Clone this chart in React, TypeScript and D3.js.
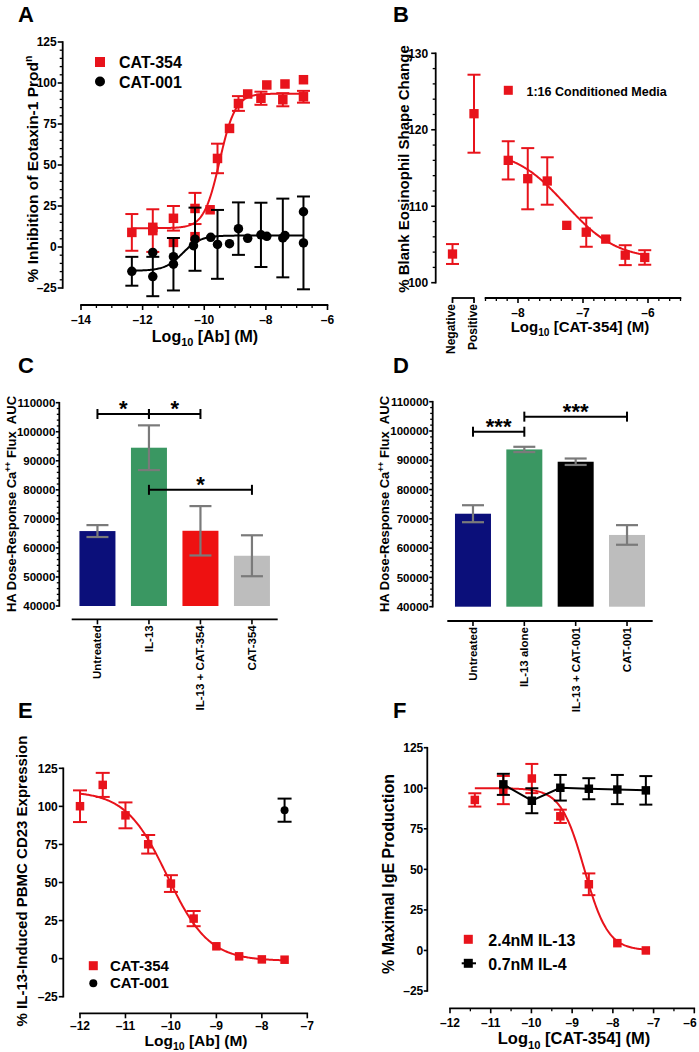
import React from 'react';
import * as d3 from 'd3';

const FONT = '"Liberation Sans", Arial, Helvetica, sans-serif';
const RED = '#e8131b';
const NAVY = '#0b0f7a';
const GREEN = '#3a9762';
const GREY_BAR = '#bdbdbd';
const ERR_GREY = '#7a7a7a';

// ---------------- Panel A ----------------
const aTicksX = [-14, -12, -10, -8, -6];
const aTicksY = [-25, 0, 25, 50, 75, 100, 125];
const a354X = [-12.35, -11.67, -11.67, -11.0, -11.0, -10.3, -10.3, -9.81, -9.57, -9.18, -8.89, -8.59, -8.16, -7.97, -7.45, -7.38, -6.78, -6.78];
const a354Y = [8.9, 10, 12, 17.5, 2.8, 23.5, 6.3, 22.7, 54, 72.3, 87.5, 93.3, 90.7, 98.8, 89.8, 99.4, 91.6, 102];
const a354Err = [11.2, 13, 0, 7.5, 0, 9.5, 0, 0, 9, 0, 4.5, 0, 4, 0, 4, 0, 3.6, 0];
const a001X = [-12.35, -11.67, -11.67, -11.0, -11.0, -10.35, -10.3, -9.79, -9.57, -9.18, -8.89, -8.59, -8.16, -7.97, -7.45, -7.38, -6.78, -6.78];
const a001Y = [-14.8, -18, -3.3, -10.5, -5.9, 0.8, 4.75, 5.9, 1.6, 2, 11.2, 5.3, 7.4, 6.5, 5.5, 7, 2.5, 21.5];
const a001Err = [8.8, 12, 0, 16, 0, 0, 19.25, 0, 21, 0, 16, 0, 19.6, 0, 24, 0, 28.3, 0];
const a354Fit = { bottom: 11.5, top: 93.5, logEC50: -9.5, hill: 1.7, from: -12.35, to: -6.78 };
const a001Fit = { bottom: -14.5, top: 7, logEC50: -10.7, hill: 1.5, from: -12.35, to: -6.78 };

// ---------------- Panel B ----------------
const bTicksX = [-8, -7, -6];
const bTicksY = [100, 110, 120, 130];
const bCtrlNames = ['Negative', 'Positive'];
const bCtrlY = [103.75, 122.1];
const bCtrlErr = [1.3, 5.1];
const bX = [-8.15, -7.85, -7.55, -7.25, -6.95, -6.65, -6.35, -6.05];
const bY = [116.0, 113.6, 113.3, 107.5, 106.6, 105.7, 103.6, 103.3];
const bErr = [2.5, 4.0, 3.1, 0, 1.9, 0, 1.3, 0.95];
const bFit = { bottom: 103, top: 117.5, logEC50: -7.27, hill: -1.1, from: -8.15, to: -6.05 };

// ---------------- Panels C & D ----------------
const barTicks = [40000, 50000, 60000, 70000, 80000, 90000, 100000, 110000];
const cCats = ['Untreated', 'IL-13', 'IL-13 + CAT-354', 'CAT-354'];
const cVals = [65800, 94500, 65900, 57300];
const cErr = [2050, 7700, 8500, 7050];
const cColors = [NAVY, GREEN, '#ee1111', GREY_BAR];
const cSig = [
  { a: 0, b: 1, at: 106100, mark: '*' },
  { a: 1, b: 2, at: 106100, mark: '*' },
  { a: 1, b: 3, at: 80000, mark: '*' },
];
const dCats = ['Untreated', 'IL-13 alone', 'IL-13 + CAT-001', 'CAT-001'];
const dVals = [71750, 93700, 89500, 64500];
const dErr = [2900, 900, 1100, 3350];
const dColors = [NAVY, GREEN, '#000000', GREY_BAR];
const dSig = [
  { a: 0, b: 1, at: 99750, mark: '***' },
  { a: 1, b: 3, at: 104900, mark: '***' },
];

// ---------------- Panel E ----------------
const eTicksX = [-12, -11, -10, -9, -8, -7];
const eTicksY = [-25, 0, 25, 50, 75, 100, 125];
const e354X = [-12, -11.5, -11, -10.5, -10, -9.5, -9, -8.5, -8, -7.5];
const e354Y = [100.1, 114.1, 94.1, 75.1, 49.3, 26.3, 8.1, 1.5, -0.5, -0.7];
const e354Err = [10.4, 7.9, 8.5, 6.1, 5.5, 5, 0, 0, 0, 0];
const e001X = [-7.5];
const e001Y = [97.5];
const e001Err = [7.6];
const eFit = { bottom: -1.5, top: 110, logEC50: -10.08, hill: -0.95, from: -12, to: -7.5 };

// ---------------- Panel F ----------------
const fTicksX = [-12, -11, -10, -9, -8, -7, -6];
const fTicksY = [-25, 0, 25, 50, 75, 100, 125];
const f13X = [-11.39, -10.69, -9.99, -9.29, -8.59, -7.89, -7.19];
const f13Y = [92.8, 98.9, 106, 82.7, 40.8, 4.5, 0];
const f13Err = [4.1, 8.7, 9, 4.1, 6.7, 0, 0];
const f4X = [-10.69, -9.99, -9.29, -8.59, -7.89, -7.19];
const f4Y = [102.4, 92.3, 100.3, 99.7, 99.2, 98.7];
const f4Err = [6.5, 7.7, 7.9, 6.5, 9, 8.8];
const fFit = { bottom: 0, top: 100, logEC50: -8.7, hill: -1.5, from: -11.39, to: -7.19 };

type Fit = { bottom: number; top: number; logEC50: number; hill: number; from: number; to: number };
const logistic = (f: Fit) => (x: number) =>
  f.bottom + (f.top - f.bottom) / (1 + Math.pow(10, (f.logEC50 - x) * f.hill));

const fmt = (v: number) => (v < 0 ? '\u2013' + Math.abs(v) : String(v));

function minorOf(lo: number, hi: number, step: number, major: number[]) {
  const n = Math.round((hi - lo) / step);
  return d3.range(n + 1).map(i => lo + i * step).filter(v => !major.some(m => Math.abs(m - v) < 1e-6));
}

const Txt = (p: any) => <text fontFamily={FONT} fontWeight="bold" fill="#000" {...p} />;

function AxisLeft({ x, scale, major, minor = [], fs = 12, majorLen = 5, minorLen = 3, gap = 1, format = fmt }: any) {
  const r = scale.range();
  return (
    <g>
      <line x1={x} x2={x} y1={r[0] + 0.8} y2={r[1] - 0.8} stroke="#000" strokeWidth={1.8} />
      {minor.map((v: number, i: number) => (
        <line key={'n' + i} x1={x - minorLen} x2={x} y1={scale(v)} y2={scale(v)} stroke="#000" strokeWidth={1.3} />
      ))}
      {major.map((v: number, i: number) => (
        <g key={'j' + i}>
          <line x1={x - majorLen} x2={x} y1={scale(v)} y2={scale(v)} stroke="#000" strokeWidth={1.6} />
          <Txt x={x - majorLen - gap} y={scale(v)} dy="0.36em" textAnchor="end" fontSize={fs}>{format(v)}</Txt>
        </g>
      ))}
    </g>
  );
}

function AxisBottom({ y, scale, major, minor = [], fs = 12, majorLen = 5, minorLen = 3, labelDy = 18, maxLabelX = 10000 }: any) {
  const r = scale.range();
  return (
    <g>
      <line x1={r[0] - 0.8} x2={r[1] + 0.8} y1={y} y2={y} stroke="#000" strokeWidth={1.8} />
      {minor.map((v: number, i: number) => (
        <line key={'n' + i} x1={scale(v)} x2={scale(v)} y1={y} y2={y + minorLen} stroke="#000" strokeWidth={1.3} />
      ))}
      {major.map((v: number, i: number) => (
        <g key={'j' + i}>
          <line x1={scale(v)} x2={scale(v)} y1={y} y2={y + majorLen} stroke="#000" strokeWidth={1.6} />
          <Txt x={Math.min(scale(v), maxLabelX)} y={y + labelDy} textAnchor="middle" fontSize={fs}>{fmt(v)}</Txt>
        </g>
      ))}
    </g>
  );
}

function ErrBar({ x, y0, y1, cap, color, sw = 2 }: any) {
  return (
    <g stroke={color} strokeWidth={sw}>
      <line x1={x} x2={x} y1={y0} y2={y1} />
      <line x1={x - cap / 2} x2={x + cap / 2} y1={y0} y2={y0} />
      <line x1={x - cap / 2} x2={x + cap / 2} y1={y1} y2={y1} />
    </g>
  );
}

function Series({ xs, ys, es, sx, sy, color, shape, size, cap }: any) {
  return (
    <g>
      {xs.map((x: number, i: number) =>
        es[i] > 0 ? (
          <ErrBar key={'e' + i} x={sx(x)} y0={sy(ys[i] + es[i])} y1={sy(ys[i] - es[i])} cap={cap} color={color} />
        ) : null
      )}
      {xs.map((x: number, i: number) =>
        shape === 'circle' ? (
          <circle key={'m' + i} cx={sx(x)} cy={sy(ys[i])} r={size / 2} fill={color} />
        ) : (
          <rect key={'m' + i} x={sx(x) - size / 2} y={sy(ys[i]) - size / 2} width={size} height={size} fill={color} />
        )
      )}
    </g>
  );
}

function Curve({ fit, sx, sy, color }: any) {
  const f = logistic(fit);
  const pts = d3.range(201).map(i => fit.from + ((fit.to - fit.from) * i) / 200);
  const line = d3.line<number>().x(v => sx(v)).y(v => sy(f(v)));
  return <path d={line(pts) || ''} fill="none" stroke={color} strokeWidth={2} />;
}

function LogTitle({ x, y, fs, rest }: any) {
  return (
    <Txt x={x} y={y} textAnchor="middle" fontSize={fs}>
      Log
      <tspan fontSize={fs * 0.68} dy={fs * 0.28}>10</tspan>
      <tspan dy={-fs * 0.28}>{'\u00A0' + rest}</tspan>
    </Txt>
  );
}

function YTitle({ x, y, fs, children }: any) {
  return (
    <Txt transform={`translate(${x},${y}) rotate(-90)`} textAnchor="middle" fontSize={fs}>
      {children}
    </Txt>
  );
}

function BarPanel({ cats, vals, errs, colors, sig, axisX, yRange, xRange, baseY }: any) {
  const sy = d3.scaleLinear().domain([40000, 110000]).range(yRange);
  const sx = d3.scalePoint<string>().domain(cats).range(xRange).padding(0.5);
  const bw = 36;
  return (
    <g>
      <AxisLeft x={axisX} scale={sy} major={barTicks} minor={minorOf(40000, 110000, 2000, barTicks)}
        fs={11.5} majorLen={3.5} minorLen={2.5} gap={0.5} />
      {cats.map((c: string, i: number) => (
        <rect key={'b' + i} x={(sx(c) as number) - bw / 2} y={sy(vals[i])} width={bw}
          height={sy(40000) - sy(vals[i])} fill={colors[i]} />
      ))}
      {cats.map((c: string, i: number) => (
        <ErrBar key={'e' + i} x={sx(c)} y0={sy(vals[i] + errs[i])} y1={sy(vals[i] - errs[i])} cap={22} color={ERR_GREY} sw={2.2} />
      ))}
      <line x1={xRange[0]} x2={xRange[1]} y1={baseY} y2={baseY} stroke="#000" strokeWidth={1.8} />
      {cats.map((c: string, i: number) => (
        <g key={'t' + i}>
          <line x1={sx(c)} x2={sx(c)} y1={baseY} y2={baseY + 5} stroke="#000" strokeWidth={1.6} />
          <Txt transform={`translate(${(sx(c) as number) + 4},${baseY + 6}) rotate(-90)`} textAnchor="end" fontSize={11.5}>{c}</Txt>
        </g>
      ))}
      {sig.map((s: any, i: number) => {
        const x0 = sx(cats[s.a]) as number;
        const x1 = sx(cats[s.b]) as number;
        const y = sy(s.at);
        return (
          <g key={'s' + i}>
            <g stroke="#000" strokeWidth={2}>
              <line x1={x0} x2={x1} y1={y} y2={y} />
              <line x1={x0} x2={x0} y1={y - 5} y2={y + 5} />
              <line x1={x1} x2={x1} y1={y - 5} y2={y + 5} />
            </g>
            <Txt x={(x0 + x1) / 2} y={y + 2} textAnchor="middle" fontSize={22}>{s.mark}</Txt>
          </g>
        );
      })}
    </g>
  );
}

export default function App() {
  // Panel A scales
  const xA = d3.scaleLinear().domain([-14, -6]).range([81, 327.5]);
  const yA = d3.scaleLinear().domain([-25, 125]).range([288, 42]);
  // Panel B scales
  const xB = d3.scaleLinear().domain([-8.5, -5.5]).range([485.5, 680.5]);
  const yB = d3.scaleLinear().domain([100, 130]).range([282.7, 53.3]);
  const xBc = d3.scalePoint<string>().domain(bCtrlNames).range([452.5, 474]);
  // Panel E scales
  const xE = d3.scaleLinear().domain([-12, -7]).range([80, 307.3]);
  const yE = d3.scaleLinear().domain([-25, 125]).range([996.7, 768.3]);
  // Panel F scales
  const xF = d3.scaleLinear().domain([-12, -6]).range([450, 694.3]);
  const yF = d3.scaleLinear().domain([-25, 125]).range([991, 747.7]);

  const f4Line = d3.line<number>().x(v => xF(v)).y((v, i) => yF(f4Y[i]));

  return (
    <svg width={699} height={1052} viewBox="0 0 699 1052"
      style={{ position: 'absolute', left: 0, top: 0, background: '#fff' }}>
      <rect x={0} y={0} width={699} height={1052} fill="#fff" />

      {/* ---------- Panel A ---------- */}
      <Txt x={18} y={22} fontSize={22}>A</Txt>
      <AxisLeft x={62.7} scale={yA} major={aTicksY} minor={minorOf(-25, 125, 5, aTicksY)} />
      <AxisBottom y={305} scale={xA} major={aTicksX} minor={minorOf(-14, -6, 0.5, aTicksX)} labelDy={18.5} />
      <Curve fit={a354Fit} sx={xA} sy={yA} color={RED} />
      <Curve fit={a001Fit} sx={xA} sy={yA} color="#000" />
      <Series xs={a354X} ys={a354Y} es={a354Err} sx={xA} sy={yA} color={RED} shape="square" size={9.5} cap={13} />
      <Series xs={a001X} ys={a001Y} es={a001Err} sx={xA} sy={yA} color="#000" shape="circle" size={9.5} cap={13} />
      <rect x={95} y={57} width={10} height={10} fill={RED} />
      <Txt x={119} y={68} fontSize={16}>CAT-354</Txt>
      <circle cx={100} cy={81.5} r={5} fill="#000" />
      <Txt x={119} y={87.5} fontSize={16}>CAT-001</Txt>
      <YTitle x={37.5} y={169} fs={15.5}>
        % Inhibition of Eotaxin-1 Prod<tspan fontSize={10.5} dy={-6}>n</tspan>
      </YTitle>
      <LogTitle x={205} y={342} fs={16} rest="[Ab] (M)" />

      {/* ---------- Panel B ---------- */}
      <Txt x={393} y={22} fontSize={22}>B</Txt>
      <AxisLeft x={435.7} scale={yB} major={bTicksY} minor={minorOf(100, 130, 2, bTicksY)} majorLen={4.5} gap={3} />
      <AxisBottom y={298} scale={xB} major={bTicksX} minor={minorOf(-8.5, -5.5, 1 / 6, bTicksX)} labelDy={18.7} />
      <g stroke="#000" strokeWidth={1.8}>
        <line x1={xBc('Negative')} x2={xBc('Positive')} y1={298} y2={298} />
        {bCtrlNames.map(n => (
          <line key={n} x1={xBc(n)} x2={xBc(n)} y1={297.2} y2={303} />
        ))}
      </g>
      {bCtrlNames.map(n => (
        <Txt key={'l' + n} transform={`translate(${(xBc(n) as number) + 2.5},${304}) rotate(-90)`} textAnchor="end" fontSize={12}>{n}</Txt>
      ))}
      <Curve fit={bFit} sx={xB} sy={yB} color={RED} />
      <Series xs={bX} ys={bY} es={bErr} sx={xB} sy={yB} color={RED} shape="square" size={9.3} cap={13} />
      <Series xs={bCtrlNames} ys={bCtrlY} es={bCtrlErr} sx={xBc} sy={yB} color={RED} shape="square" size={9.3} cap={13} />
      <rect x={503.8} y={85.8} width={9} height={9} fill={RED} />
      <Txt x={526.5} y={96} fontSize={12.5}>1:16 Conditioned Media</Txt>
      <YTitle x={408.5} y={169} fs={15}>% Blank Eosinophil Shape Change</YTitle>
      <LogTitle x={580} y={332} fs={15} rest="[CAT-354] (M)" />

      {/* ---------- Panel C ---------- */}
      <Txt x={18} y={373} fontSize={22}>C</Txt>
      <BarPanel cats={cCats} vals={cVals} errs={cErr} colors={cColors} sig={cSig}
        axisX={59.3} yRange={[606, 402.7]} xRange={[71.7, 277.7]} baseY={619.3} />
      <YTitle x={15.5} y={504} fs={13}>
        HA Dose-Response Ca<tspan fontSize={8.5} dy={-5}>++</tspan><tspan dy={5}>{'\u00A0Flux\u00A0\u00A0AUC'}</tspan>
      </YTitle>

      {/* ---------- Panel D ---------- */}
      <Txt x={393} y={373} fontSize={22}>D</Txt>
      <BarPanel cats={dCats} vals={dVals} errs={dErr} colors={dColors} sig={dSig}
        axisX={432.7} yRange={[606.7, 401.7]} xRange={[447.3, 652.7]} baseY={621} />
      <YTitle x={389} y={504} fs={13}>
        HA Dose-Response Ca<tspan fontSize={8.5} dy={-5}>++</tspan><tspan dy={5}>{'\u00A0Flux\u00A0\u00A0AUC'}</tspan>
      </YTitle>

      {/* ---------- Panel E ---------- */}
      <Txt x={18} y={718} fontSize={22}>E</Txt>
      <AxisLeft x={63.3} scale={yE} major={eTicksY} majorLen={4.5} gap={1} />
      <AxisBottom y={1013.3} scale={xE} major={eTicksX} labelDy={17} />
      <Curve fit={eFit} sx={xE} sy={yE} color={RED} />
      <Series xs={e354X} ys={e354Y} es={e354Err} sx={xE} sy={yE} color={RED} shape="square" size={8.5} cap={14} />
      <Series xs={e001X} ys={e001Y} es={e001Err} sx={xE} sy={yE} color="#000" shape="circle" size={8} cap={14} />
      <rect x={88.8} y={961.2} width={9} height={9} fill={RED} />
      <Txt x={110} y={970.5} fontSize={15}>CAT-354</Txt>
      <circle cx={93.3} cy={983.3} r={4} fill="#000" />
      <Txt x={110} y={988.3} fontSize={15}>CAT-001</Txt>
      <YTitle x={27} y={881} fs={15}>% IL-13-Induced PBMC CD23 Expression</YTitle>
      <LogTitle x={196} y={1046} fs={15.5} rest="[Ab] (M)" />

      {/* ---------- Panel F ---------- */}
      <Txt x={393} y={718} fontSize={22}>F</Txt>
      <AxisLeft x={427.3} scale={yF} major={fTicksY} majorLen={3.5} gap={0.5} />
      <AxisBottom y={1008.3} scale={xF} major={fTicksX} minor={minorOf(-12, -6, 0.5, fTicksX)} labelDy={18.2} maxLabelX={690} />
      <Curve fit={fFit} sx={xF} sy={yF} color={RED} />
      <Series xs={f13X} ys={f13Y} es={f13Err} sx={xF} sy={yF} color={RED} shape="square" size={8.5} cap={13} />
      <path d={f4Line(f4X) || ''} fill="none" stroke="#000" strokeWidth={2} />
      <Series xs={f4X} ys={f4Y} es={f4Err} sx={xF} sy={yF} color="#000" shape="square" size={8.5} cap={13} />
      <rect x={463.8} y={934.8} width={9} height={9} fill={RED} />
      <Txt x={488.3} y={945.5} fontSize={16}>2.4nM IL-13</Txt>
      <line x1={461.7} x2={476} y1={963.3} y2={963.3} stroke="#000" strokeWidth={2} />
      <rect x={463.8} y={958.8} width={9} height={9} fill="#000" />
      <Txt x={488.3} y={969.5} fontSize={16}>0.7nM IL-4</Txt>
      <YTitle x={394} y={874} fs={16}>% Maximal IgE Production</YTitle>
      <LogTitle x={574} y={1044} fs={16.5} rest="[CAT-354] (M)" />
    </svg>
  );
}
